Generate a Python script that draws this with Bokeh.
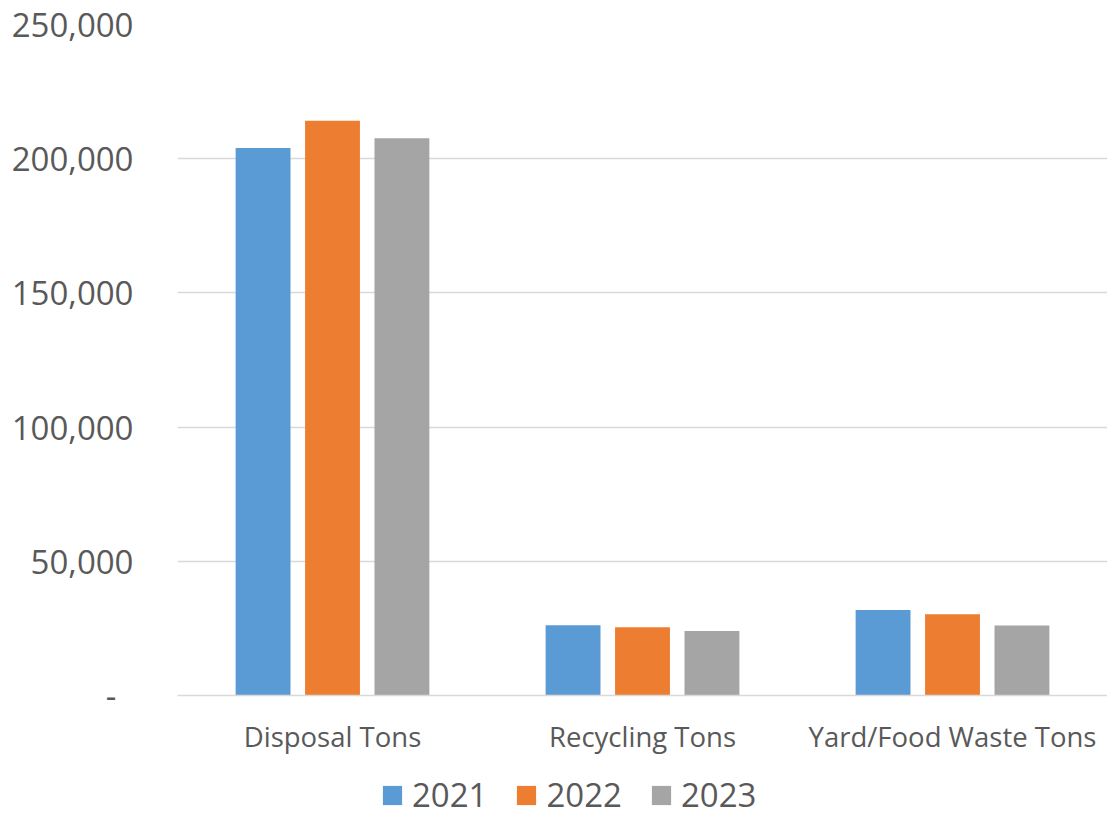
from bokeh.plotting import figure
from bokeh.models import (ColumnDataSource, FactorRange, Legend, LegendItem,
                          CustomJSTickFormatter, Range1d, FixedTicker)
from bokeh.layouts import column
from bokeh.transform import dodge
from bokeh.embed import file_html
from bokeh.resources import INLINE

categories = ["Disposal Tons", "Recycling Tons", "Yard/Food Waste Tons"]
years = ["2021", "2022", "2023"]
tons_2021 = [204000, 26200, 31900]
tons_2022 = [214100, 25400, 30300]
tons_2023 = [207600, 24000, 26100]
colors = ["#5B9BD5", "#ED7D31", "#A5A5A5"]
y_ticks = [0, 50000, 100000, 150000, 200000, 250000]

FONT = "Open Sans"
TXT = "#595959"

source = ColumnDataSource(data=dict(cat=categories, y2021=tons_2021,
                                    y2022=tons_2022, y2023=tons_2023))

p = figure(x_range=FactorRange(*categories, range_padding=0),
           y_range=Range1d(0, 250000),
           frame_width=930, frame_height=671,
           output_backend="svg", toolbar_location=None,
           min_border_left=177, min_border_right=0, min_border_top=24,
           min_border_bottom=64)
p.outline_line_color = None
p.background_fill_color = "white"
p.border_fill_color = "white"

bar_w = 0.177
offsets = [-0.224, 0.0, 0.224]
fields = ["y2021", "y2022", "y2023"]
for f, off, c in zip(fields, offsets, colors):
    p.vbar(x=dodge("cat", off, range=p.x_range), top=f, width=bar_w,
           source=source, fill_color=c, line_color=None)

# grid
p.xgrid.grid_line_color = None
p.ygrid.grid_line_color = "#D9D9D9"
p.ygrid.grid_line_width = 1.3
p.yaxis.ticker = FixedTicker(ticks=y_ticks)

# y axis
p.yaxis.axis_line_color = None
p.yaxis.major_tick_line_color = None
p.yaxis.minor_tick_line_color = None
p.yaxis.major_label_standoff = 38
p.yaxis.major_label_text_font = FONT
p.yaxis.major_label_text_font_size = "33px"
p.yaxis.major_label_text_color = TXT
p.yaxis.formatter = CustomJSTickFormatter(code="""
    if (tick == 0) { return "-\\u00a0\\u00a0"; }
    return tick.toFixed(0).replace(/\\B(?=(\\d{3})+(?!\\d))/g, ",");
""")

# x axis
p.xaxis.axis_line_color = "#D9D9D9"
p.xaxis.axis_line_width = 1.3
p.xaxis.major_tick_line_color = None
p.xaxis.minor_tick_line_color = None
p.xaxis.major_label_standoff = 16
p.xaxis.major_label_text_font = FONT
p.xaxis.major_label_text_font_size = "27.5px"
p.xaxis.major_label_text_color = TXT

# legend row (separate strip below the chart; its proxy bars fall outside its range)
lg = figure(width=1107, height=58, output_backend="svg", toolbar_location=None,
            x_axis_location=None, y_axis_location=None,
            x_range=Range1d(0, 1), y_range=Range1d(0, 1),
            min_border=0)
lg.outline_line_color = None
lg.grid.visible = False
lg_renderers = [lg.vbar(x=f, top=f, width=0.1, source=source,
                        fill_color=c, line_color=None)
                for f, c in zip(fields, colors)]

legend = Legend(items=[LegendItem(label=y, renderers=[r]) for y, r in zip(years, lg_renderers)],
                orientation="horizontal", location=(203, 0),
                border_line_color=None, background_fill_alpha=0,
                label_text_font=FONT, label_text_font_size="33px",
                label_text_color=TXT, glyph_width=24, glyph_height=24,
                spacing=27, label_standoff=8, padding=0, margin=0)
lg.add_layout(legend)

layout = column(p, lg, spacing=0)
open("out.html", "w").write(file_html(layout, INLINE))
